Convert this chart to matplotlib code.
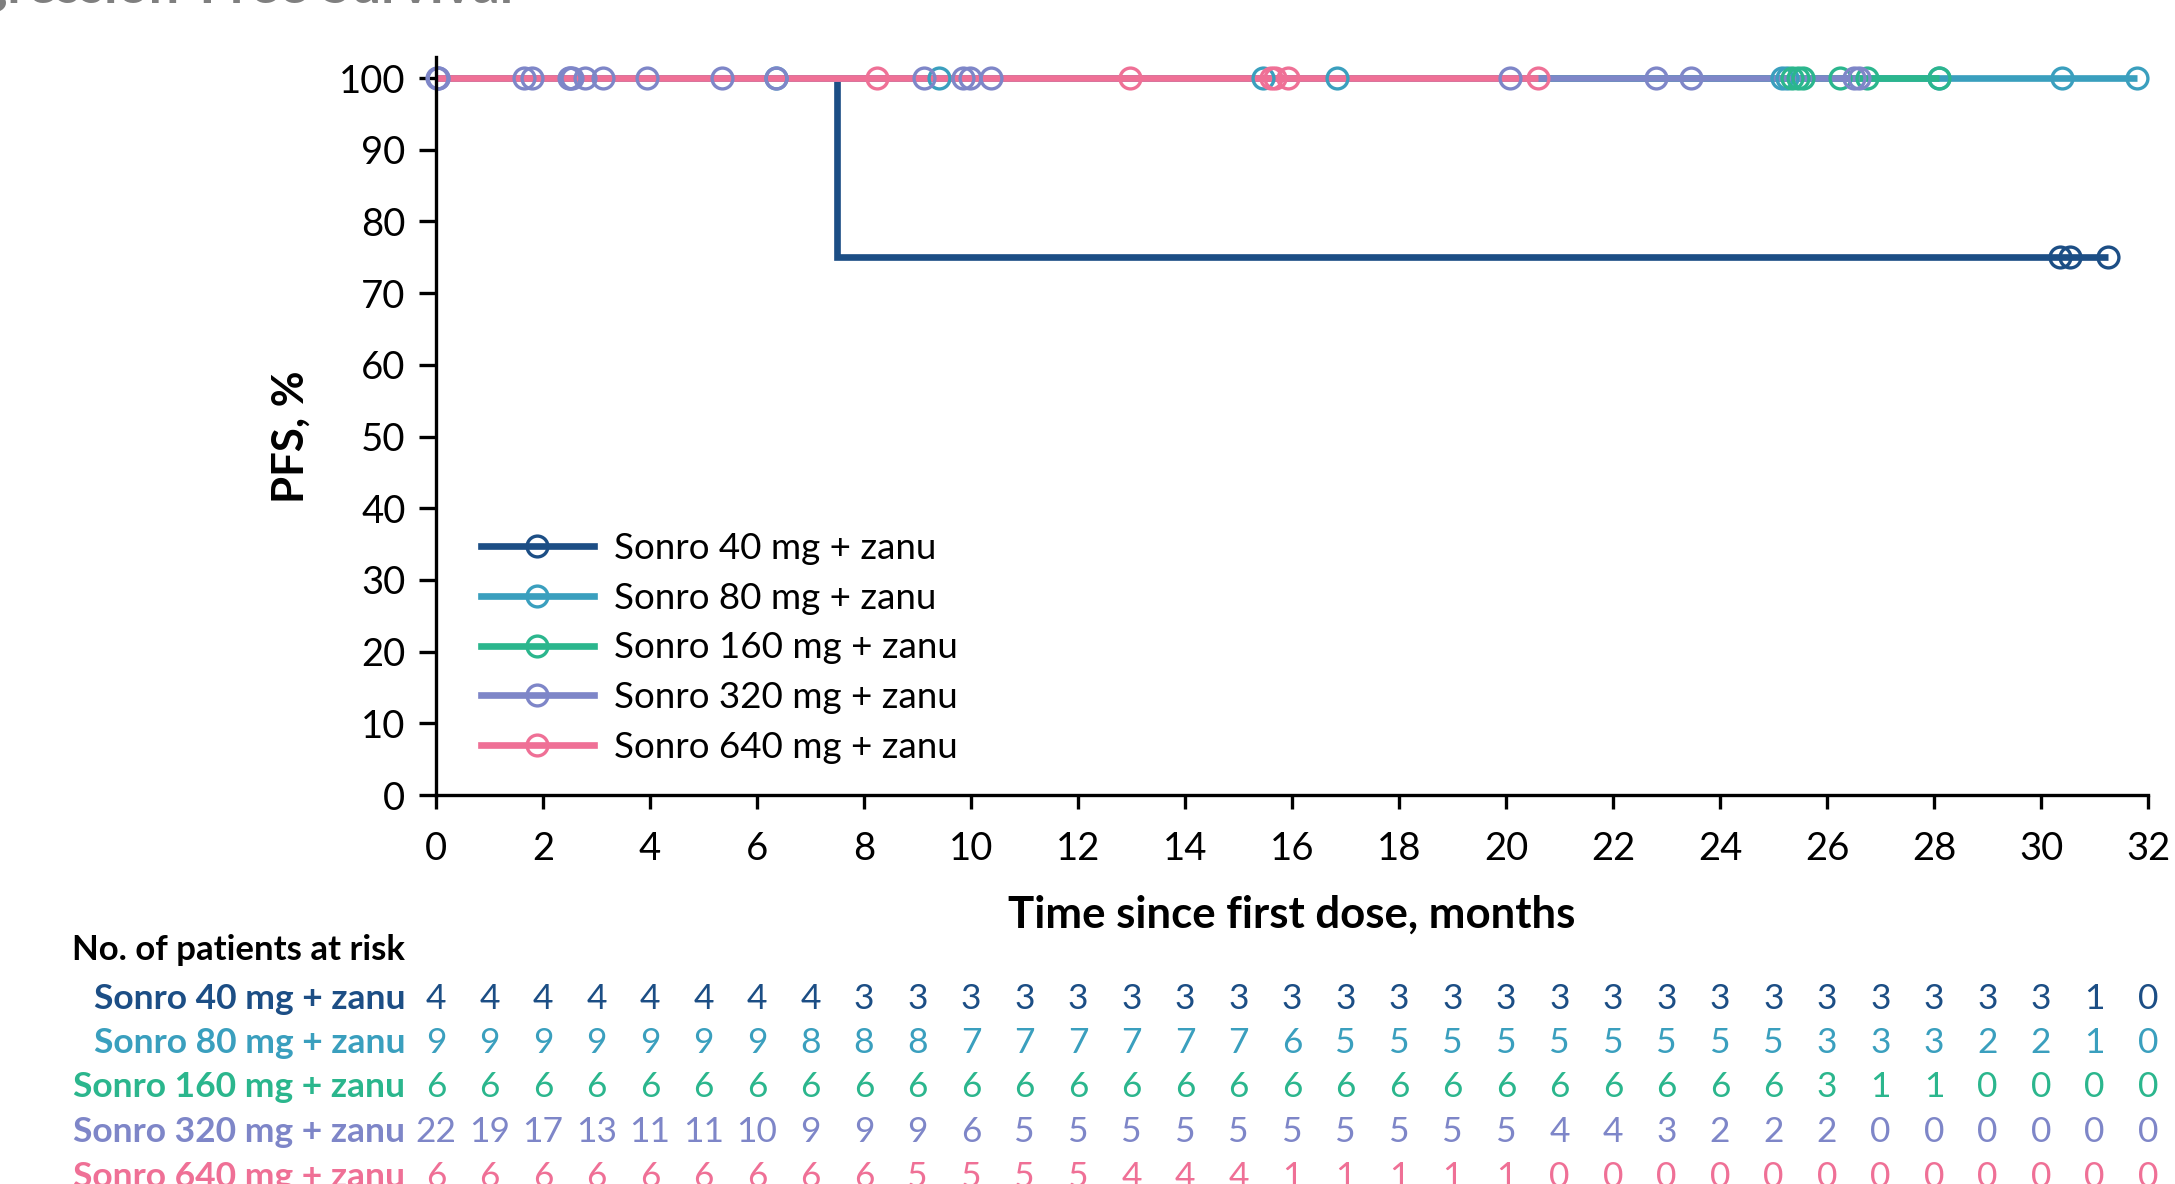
import matplotlib
matplotlib.use("Agg")
import matplotlib.pyplot as plt
from matplotlib.lines import Line2D
import matplotlib.transforms as mtransforms

plt.rcParams['font.family'] = ['Lato', 'DejaVu Sans']

# groups and colours
labels = ["Sonro 40 mg + zanu", "Sonro 80 mg + zanu", "Sonro 160 mg + zanu",
          "Sonro 320 mg + zanu", "Sonro 640 mg + zanu"]
colors = ["#1C4E85", "#3A9FBE", "#2BB68D", "#7E86C8", "#EF7096"]

# Kaplan-Meier steps (time in months, PFS %)
km_t = [
    [0, 7.49, 31.25],
    [0, 31.8],
    [0, 28.1],
    [0, 26.6],
    [0, 20.6],
]
km_s = [
    [100, 75, 75],
    [100, 100],
    [100, 100],
    [100, 100],
    [100, 100],
]

# censoring times and the PFS level they sit at
cens_t = [
    [30.35, 30.55, 31.25],
    [6.35, 9.4, 15.45, 16.85, 25.15, 25.25, 28.1, 30.4, 31.8],
    [25.35, 25.45, 25.55, 26.25, 26.75, 28.1],
    [0.02, 0.03, 0.04, 1.65, 1.8, 2.48, 2.5, 2.55, 2.78, 3.13, 3.95, 5.35, 6.35,
     9.12, 9.85, 9.98, 10.38, 20.08, 22.8, 23.45, 26.5, 26.6],
    [8.25, 12.97, 15.6, 15.68, 15.92, 20.6],
]
cens_s = [75, 100, 100, 100, 100]

# numbers at risk, months 0..32
risk_months = list(range(0, 33))
risk = [
    [4, 4, 4, 4, 4, 4, 4, 4, 3, 3, 3, 3, 3, 3, 3, 3, 3, 3, 3, 3, 3, 3, 3, 3, 3, 3, 3, 3, 3, 3, 3, 1, 0],
    [9, 9, 9, 9, 9, 9, 9, 8, 8, 8, 7, 7, 7, 7, 7, 7, 6, 5, 5, 5, 5, 5, 5, 5, 5, 5, 3, 3, 3, 2, 2, 1, 0],
    [6, 6, 6, 6, 6, 6, 6, 6, 6, 6, 6, 6, 6, 6, 6, 6, 6, 6, 6, 6, 6, 6, 6, 6, 6, 6, 3, 1, 1, 0, 0, 0, 0],
    [22, 19, 17, 13, 11, 11, 10, 9, 9, 9, 6, 5, 5, 5, 5, 5, 5, 5, 5, 5, 5, 4, 4, 3, 2, 2, 2, 0, 0, 0, 0, 0, 0],
    [6, 6, 6, 6, 6, 6, 6, 6, 6, 5, 5, 5, 5, 4, 4, 4, 1, 1, 1, 1, 1, 0, 0, 0, 0, 0, 0, 0, 0, 0, 0, 0, 0],
]

W, H = 2175, 1184
fig = plt.figure(figsize=(W / 100, H / 100), dpi=100)
ax = fig.add_axes([436 / W, 1 - 795 / H, 1712 / W, 738.5 / H])

LW, MS, MEW = 4.8, 15, 2.4
for t, s, c in zip(km_t, km_s, colors):
    ax.plot(t, s, drawstyle="steps-post", color=c, lw=LW, solid_capstyle="butt",
            solid_joinstyle="miter", clip_on=False)
for t, s, c in zip(cens_t, cens_s, colors):
    ax.plot(t, [s] * len(t), ls="none", marker="o", ms=MS, mfc="none", mec=c,
            mew=MEW, clip_on=False)

ax.set_xlim(0, 32)
ax.set_ylim(0, 103)
ax.set_xticks(range(0, 33, 2))
ax.set_yticks(range(0, 101, 10))
for side in ["top", "right"]:
    ax.spines[side].set_visible(False)
for side in ["left", "bottom"]:
    ax.spines[side].set_linewidth(2.4)
ax.tick_params(axis="both", width=2.4, length=12, labelsize=27.5, pad=10)
ax.tick_params(axis="x", length=10, pad=16)

ax.set_xlabel("Time since first dose, months", fontsize=31.5, fontweight="bold")
ax.xaxis.label.set_va("center")
ax.xaxis.set_label_coords(0.5, (795 - 915) / 738.5)
ax.set_ylabel("PFS, %", fontsize=31.5, fontweight="bold")
ax.yaxis.label.set_va("center")
ax.yaxis.set_label_coords((291 - 436) / 1712, (795 - 437) / 738.5)

handles = [Line2D([], [], color=c, lw=LW, marker="o", ms=MS, mfc="none",
                  mec=c, mew=MEW) for c in colors]
ax.legend(handles, labels, loc="center left", frameon=False, fontsize=26.5,
          bbox_to_anchor=(481 / W, 1 - 648 / H), bbox_transform=fig.transFigure,
          borderpad=0, borderaxespad=0, handlelength=3.07, handletextpad=0.55,
          labelspacing=0.45, numpoints=1)

# partly cropped heading at the top
fig.text(513 / W, 1 - 2 / H, "Progression-Free Survival", ha="right",
         va="baseline", fontsize=39, fontweight="bold", color="#7f7f7f")

# risk table
trans = mtransforms.blended_transform_factory(ax.transData, fig.transFigure)
fig.text(72 / W, 1 - 950 / H, "No. of patients at risk", ha="left", va="center",
         fontsize=25, fontweight="bold")
row_y = [999, 1043, 1087, 1132, 1177]
for lab, c, vals, y in zip(labels, colors, risk, row_y):
    fig.text(405 / W, 1 - y / H, lab, ha="right", va="center", fontsize=25.5,
             fontweight="bold", color=c)
    for m, v in zip(risk_months, vals):
        ax.text(m, 1 - y / H, str(v), transform=trans, ha="center", va="center",
                fontsize=25.5, color=c, clip_on=False)

fig.savefig("out.png", dpi=100)
